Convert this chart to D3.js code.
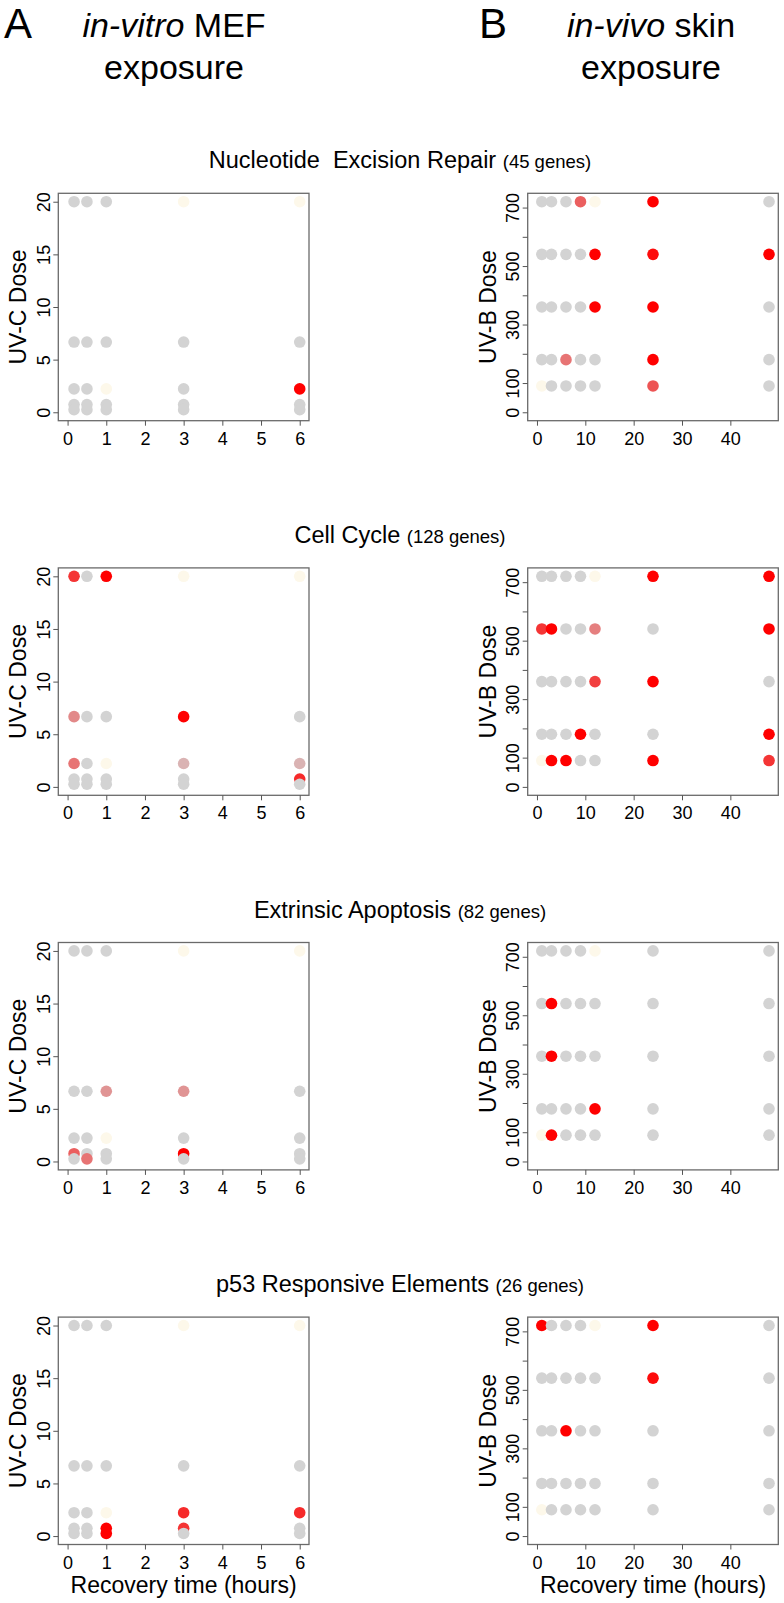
<!DOCTYPE html>
<html><head><meta charset="utf-8">
<script src="https://cdn.jsdelivr.net/npm/d3@7"></script>
<style>
body{margin:0;background:#fff;}
svg text{font-family:"Liberation Sans",Arial,Helvetica,sans-serif;fill:#000;}
</style></head>
<body><svg id="chart" width="784" height="1603"></svg>
<script>
// ---- data ----
const timesA = [0.167, 0.5, 1, 3, 6];          // hours, in-vitro MEF
const dosesA = [20, 6.67, 2.22, 0.74, 0.25];   // UV-C dose
const timesB = [1, 3, 6, 9, 12, 24, 48];       // hours, in-vivo skin
const dosesB = [720, 540, 360, 180, 90];       // UV-B dose
const pathways = ["Nucleotide  Excision Repair", "Cell Cycle", "Extrinsic Apoptosis", "p53 Responsive Elements"];
const geneCounts = [45, 128, 82, 26];
const xTicksA = [0, 1, 2, 3, 4, 5, 6];
const yTicksA = [0, 5, 10, 15, 20];
const xTicksB = [0, 10, 20, 30, 40];
const yTicksB = [0, 100, 200, 300, 400, 500, 600, 700];
const yLabelsB = [0, 100, 300, 500, 700];
const xLimA = [0, 6], yLimA = [0, 20], xLimB = [0, 48], yLimB = [0, 720];
// response level per dose row x time column: -1 = not significant (cream), 0 = no change (grey), 0..1 = enrichment strength (red)
const nerA = [[0,0,0,-1,-1],[0,0,0,0,0],[0,0,-1,0,1],[0,0,0,0,0],[0,0,0,0,0]];
const nerB = [[0,0,0,0.55,-1,1,0],[0,0,0,0,1,0.95,1],[0,0,0,0,1,1,0],[0,0,0.45,0,0,1,0],[-1,0,0,0,0,0.6,0]];
const ccA  = [[0.75,0,1,-1,-1],[0.35,0,0,1,0],[0.45,0,-1,0.15,0.15],[0,0,0,0,0.8],[0,0,0,0,0]];
const ccB  = [[0,0,0,0,-1,1,1],[0.75,1,0,0,0.4,0,1],[0,0,0,0,0.7,1,0],[0,0,0,1,0,0,1],[-1,1,1,0,0,1,0.75]];
const eaA  = [[0,0,0,-1,-1],[0,0,0.3,0.3,0],[0,0,-1,0,0],[0.55,0,0,1,0],[0,0.45,0,0,0]];
const eaB  = [[0,0,0,0,-1,0,0],[0,1,0,0,0,0,0],[0,1,0,0,0,0,0],[0,0,0,0,1,0,0],[-1,1,0,0,0,0,0]];
const p53A = [[0,0,0,-1,-1],[0,0,0,0,0],[0,0,-1,0.8,0.8],[0,0,1,0.75,0],[0,0,1,0,0]];
const p53B = [[1,0,0,0,-1,1,0],[0,0,0,0,0,0.95,0],[0,0,1,0,0,0,0],[0,0,0,0,0,0,0],[-1,0,0,0,0,0,0]];
const panelsA = [nerA, ccA, eaA, p53A];
const panelsB = [nerB, ccB, eaB, p53B];

// ---- layout ----
const svg = d3.select("#chart");
const F = '"Liberation Sans",Arial,Helvetica,sans-serif';
const boxA = [58.3, 309], boxB = [527.7, 778.3];
const rowTop0 = 193.3, rowStep = 374.6, boxH = 227.4;
const colorScale = d3.scaleLinear().domain([0, 1]).range(["#d3d3d3", "#ff0000"]);
const cream = "#fdf8ea";
const pad = (l) => { const d = (l[1] - l[0]) * 0.04; return [l[0] - d, l[1] + d]; };

// header
function header(letter, lx, italicWord, rest, cx) {
  svg.append("text").attr("x", lx).attr("y", 38).attr("font-size", 42).text(letter);
  const t = svg.append("text").attr("x", cx).attr("y", 37).attr("font-size", 34).attr("text-anchor", "middle");
  t.append("tspan").attr("font-style", "italic").text(italicWord);
  t.append("tspan").text(rest);
  svg.append("text").attr("x", cx).attr("y", 79).attr("font-size", 34).attr("text-anchor", "middle").text("exposure");
}
header("A", 4, "in-vitro", " MEF", 174);
header("B", 479, "in-vivo", " skin", 651);

function panel(i, side) {
  const isA = side === "A";
  const [x0, x1] = isA ? boxA : boxB;
  const top = rowTop0 + i * rowStep, bottom = top + boxH;
  const x = d3.scaleLinear().domain(pad(isA ? xLimA : xLimB)).range([x0, x1]);
  const y = d3.scaleLinear().domain(pad(isA ? yLimA : yLimB)).range([bottom, top]);
  const times = isA ? timesA : timesB, doses = isA ? dosesA : dosesB;
  const grid = isA ? panelsA[i] : panelsB[i];
  const pts = [];
  doses.forEach((d, r) => times.forEach((t, c) => pts.push({t, d, v: grid[r][c]})));
  const g = svg.append("g");
  g.selectAll("circle").data(pts).enter().append("circle")
    .attr("cx", p => x(p.t)).attr("cy", p => y(p.d)).attr("r", 5.8)
    .attr("fill", p => p.v < 0 ? cream : colorScale(p.v));
  g.append("rect").attr("x", x0).attr("y", top).attr("width", x1 - x0).attr("height", boxH)
    .attr("fill", "none").attr("stroke", "#6a6a6a").attr("stroke-width", 1.3);
  // x axis
  const xa = g.append("g").attr("transform", `translate(0,${bottom})`)
    .call(d3.axisBottom(x).tickValues(isA ? xTicksA : xTicksB).tickSize(5).tickFormat(d3.format("d")));
  xa.select(".domain").remove();
  xa.selectAll("line").attr("stroke", "#555");
  xa.selectAll("text").attr("y", 24).attr("dy", 0).attr("font-size", 18).attr("font-family", F).attr("fill", "#000");
  // y axis
  const ya = g.append("g").attr("transform", `translate(${x0},0)`)
    .call(d3.axisLeft(y).tickValues(isA ? yTicksA : yTicksB).tickSize(5)
      .tickFormat(d => isA ? d : (yLabelsB.includes(d) ? d : "")));
  ya.select(".domain").remove();
  ya.selectAll("line").attr("stroke", "#555");
  ya.selectAll("text").attr("x", 0).attr("dy", 0).attr("text-anchor", "middle")
    .attr("transform", "translate(-8.5,0) rotate(-90)").attr("font-size", 18).attr("font-family", F).attr("fill", "#000");
  // y label
  g.append("text").attr("font-size", 23).attr("text-anchor", "middle")
    .attr("transform", `translate(${x0 - 32},${(top + bottom) / 2}) rotate(-90)`)
    .text(isA ? "UV-C Dose" : "UV-B Dose");
  if (i === 3) {
    g.append("text").attr("font-size", 23).attr("text-anchor", "middle")
      .attr("x", (x0 + x1) / 2).attr("y", bottom + 48).text("Recovery time (hours)");
  }
}

pathways.forEach((name, i) => {
  const top = rowTop0 + i * rowStep;
  const t = svg.append("text").attr("x", 400).attr("y", top - 25).attr("text-anchor", "middle")
    .attr("font-size", 23.5).style("white-space", "pre").attr("xml:space", "preserve");
  t.append("tspan").text(name + " ");
  t.append("tspan").attr("font-size", 18.5).text(`(${geneCounts[i]} genes)`);
  panel(i, "A");
  panel(i, "B");
});
</script></body></html>
